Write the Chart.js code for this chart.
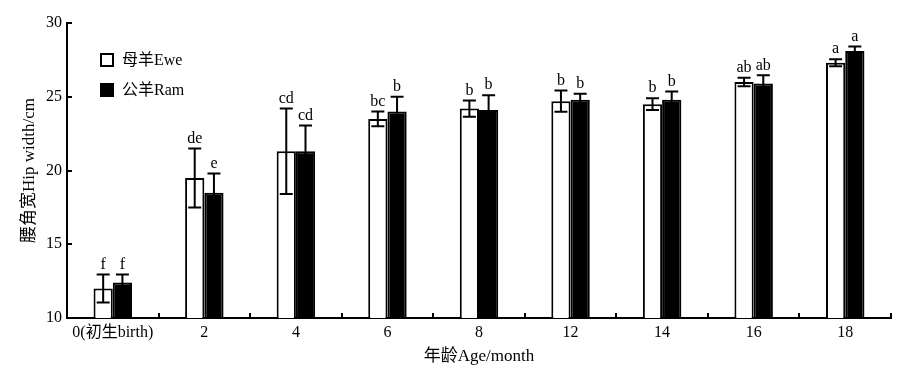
<!DOCTYPE html>
<html>
<head>
<meta charset="utf-8">
<script src="https://cdn.jsdelivr.net/npm/chart.js@4/dist/chart.umd.min.js"></script>
<style>
  html, body { margin: 0; padding: 0; background: #fff; }
  #wrap { width: 910px; height: 377px; }
</style>
</head>
<body>
<div id="wrap"><canvas id="hipChart"></canvas></div>
<script>
// hip width by age, ewes vs rams
const ages = ['0(初生birth)', '2', '4', '6', '8', '12', '14', '16', '18'];
const eweMean = [12.0, 19.5, 21.3, 23.5, 24.2, 24.7, 24.5, 26.0, 27.3];
const eweSD   = [0.95, 2.0, 2.9, 0.5, 0.55, 0.72, 0.4, 0.28, 0.24];
const ramMean = [12.4, 18.5, 21.3, 24.0, 24.1, 24.8, 24.8, 25.9, 28.1];
const ramSD   = [0.55, 1.3, 1.75, 1.0, 1.0, 0.4, 0.55, 0.55, 0.3];
const eweSig = ['f', 'de', 'cd', 'bc', 'b', 'b', 'b', 'ab', 'a'];
const ramSig = ['f', 'e', 'cd', 'b', 'b', 'b', 'b', 'ab', 'a'];
const yTicks = [10, 15, 20, 25, 30];

const serif = '"Liberation Serif", "Times New Roman", "Noto Sans CJK SC", serif';

const errBars = {
  id: 'errBars',
  afterDatasetsDraw(chart) {
    const ctx = chart.ctx, ys = chart.scales.y;
    const sd = [eweSD, ramSD], sig = [eweSig, ramSig];
    ctx.save();
    ctx.strokeStyle = '#000';
    ctx.lineWidth = 2;
    ctx.fillStyle = '#000';
    ctx.font = '16px ' + serif;
    ctx.textAlign = 'center';
    ctx.textBaseline = 'bottom';
    chart.data.datasets.forEach((ds, d) => {
      chart.getDatasetMeta(d).data.forEach((bar, i) => {
        const m = ds.data[i];
        const top = ys.getPixelForValue(m + sd[d][i]);
        const bot = ys.getPixelForValue(m - sd[d][i]);
        const x = bar.x;
        ctx.beginPath();
        ctx.moveTo(x, top); ctx.lineTo(x, bot);
        ctx.moveTo(x - 6.5, top); ctx.lineTo(x + 6.5, top);
        ctx.moveTo(x - 6.5, bot); ctx.lineTo(x + 6.5, bot);
        ctx.stroke();
        ctx.fillText(sig[d][i], x, top - 2);
      });
    });
    ctx.restore();
  }
};

// inner tick marks + legend box inside the plot
const extras = {
  id: 'extras',
  afterDraw(chart) {
    const ctx = chart.ctx, xs = chart.scales.x, ys = chart.scales.y;
    const a = chart.chartArea;
    ctx.save();
    ctx.strokeStyle = '#000';
    ctx.lineWidth = 2;
    ctx.beginPath();
    const step = xs.getPixelForValue(1) - xs.getPixelForValue(0);
    for (let i = 1; i <= ages.length; i++) {
      const x = Math.round(xs.getPixelForValue(i) - step / 2);
      ctx.moveTo(x, a.bottom); ctx.lineTo(x, a.bottom - 5);
    }
    yTicks.forEach(v => {
      const y = Math.round(ys.getPixelForValue(v));
      ctx.moveTo(a.left, y); ctx.lineTo(a.left + 5, y);
    });
    ctx.stroke();

    ctx.font = '16px ' + serif;
    ctx.textAlign = 'left';
    ctx.textBaseline = 'middle';
    chart.data.datasets.forEach((ds, d) => {
      const bx = a.left + 34, by = a.top + 31 + d * 30;
      ctx.fillStyle = ds.backgroundColor;
      ctx.fillRect(bx, by, 12, 12);
      ctx.strokeRect(bx, by, 12, 12);
      ctx.fillStyle = '#000';
      ctx.fillText(ds.label, bx + 21, by + 7);
    });
    ctx.restore();
  }
};

new Chart(document.getElementById('hipChart'), {
  type: 'bar',
  data: {
    labels: ages,
    datasets: [{
      label: '母羊Ewe',
      data: eweMean,
      backgroundColor: '#fff',
      borderColor: '#000',
      borderWidth: 2,
      categoryPercentage: 0.42,
      barPercentage: 1.0
    }, {
      label: '公羊Ram',
      data: ramMean,
      backgroundColor: '#000',
      borderColor: '#000',
      borderWidth: 2,
      categoryPercentage: 0.42,
      barPercentage: 1.0
    }]
  },
  options: {
    responsive: true,
    maintainAspectRatio: false,
    animation: false,
    layout: { padding: { left: 0, right: 19, top: 23, bottom: 0 } },
    plugins: {
      legend: { display: false },
      tooltip: { enabled: false }
    },
    scales: {
      x: {
        grid: { display: false, drawTicks: false },
        border: { display: true, color: '#000', width: 2 },
        ticks: { color: '#000', padding: 5, maxRotation: 0, font: { family: serif, size: 16 } },
        title: {
          display: true, text: '年龄Age/month', color: '#000',
          font: { family: serif, size: 17 }, padding: { top: 0, bottom: 10 }
        },
        afterFit(s) { s.height = 59; }
      },
      y: {
        min: 10, max: 30,
        grid: { display: false, drawTicks: false },
        border: { display: true, color: '#000', width: 2 },
        afterBuildTicks(s) { s.ticks = yTicks.map(v => ({ value: v })); },
        ticks: { color: '#000', padding: 5, font: { family: serif, size: 16 } },
        title: {
          display: true, text: '腰角宽Hip width/cm', color: '#000',
          font: { family: serif, size: 17 }, padding: { top: 19, bottom: 0 }
        },
        afterFit(s) { s.width = 67; }
      }
    }
  },
  plugins: [errBars, extras]
});
</script>
</body>
</html>
